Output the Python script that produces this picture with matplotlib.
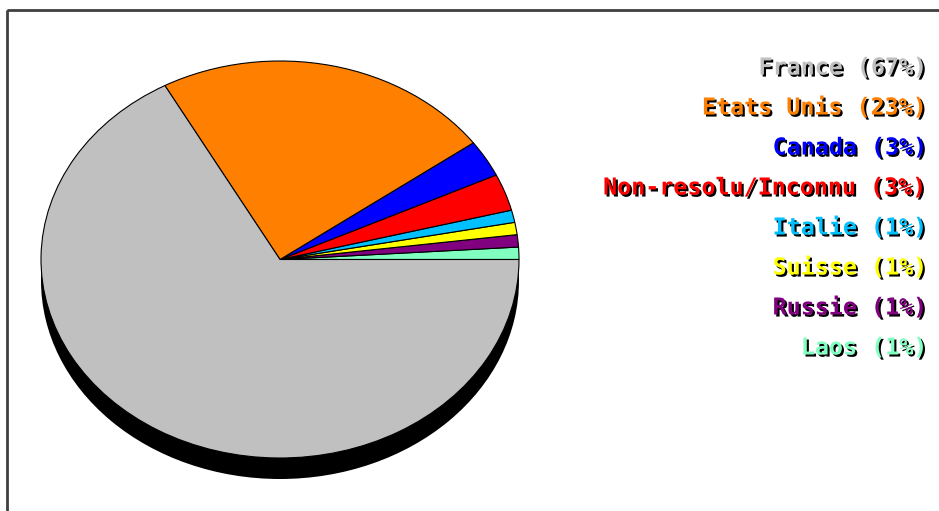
import matplotlib
matplotlib.use("Agg")
import matplotlib.pyplot as plt
import matplotlib.patheffects as pe
from matplotlib.patches import Ellipse, Rectangle

countries = ["France", "Etats Unis", "Canada", "Non-resolu/Inconnu",
             "Italie", "Suisse", "Russie", "Laos"]
shares = [67, 23, 3, 3, 1, 1, 1, 1]
colors = ["#c0c0c0", "#ff8000", "#0000ff", "#ff0000",
          "#00c0ff", "#ffff00", "#800080", "#80ffc0"]

W, H = 939, 511
fig = plt.figure(figsize=(W / 100, H / 100), dpi=100)

# background axes in pixel coordinates, for the frame and the labels
bg = fig.add_axes([0, 0, 1, 1])
bg.set_xlim(0, W)
bg.set_ylim(H, 0)
bg.axis("off")
bg.add_patch(Rectangle((7, 10), 1000, 600, fill=False,
                       edgecolor="#404040", linewidth=2))

# pie: an ellipse, slices counter-clockwise from 3 o'clock, smallest first
left, right, top, bottom = 41, 519, 61, 458
ax = fig.add_axes([left / W, (H - bottom) / H, (right - left) / W, (bottom - top) / H])
ax.pie(shares[::-1], colors=colors[::-1], startangle=0, counterclock=True,
       wedgeprops=dict(edgecolor="black", linewidth=0.8))
ax.set_aspect("auto")
ax.set_xlim(-1, 1)
ax.set_ylim(-1, 1)
ax.axis("off")
ry = (bottom - top) / 2
ax.add_patch(Ellipse((0, -21 / ry), 2, 2, facecolor="black",
                     edgecolor="none", zorder=0, clip_on=False))

shadow = [pe.SimplePatchShadow(offset=(1.5, -1.5), shadow_rgbFace="black", alpha=1.0),
          pe.Normal()]
for i, (name, pct, col) in enumerate(zip(countries, shares, colors)):
    bg.text(928, 68 + 40 * i, f"{name} ({pct}%)", ha="right", va="center",
            color=col, family="DejaVu Sans Mono", weight="bold", fontsize=16.8,
            path_effects=shadow)

fig.savefig("out.png", dpi=100)
